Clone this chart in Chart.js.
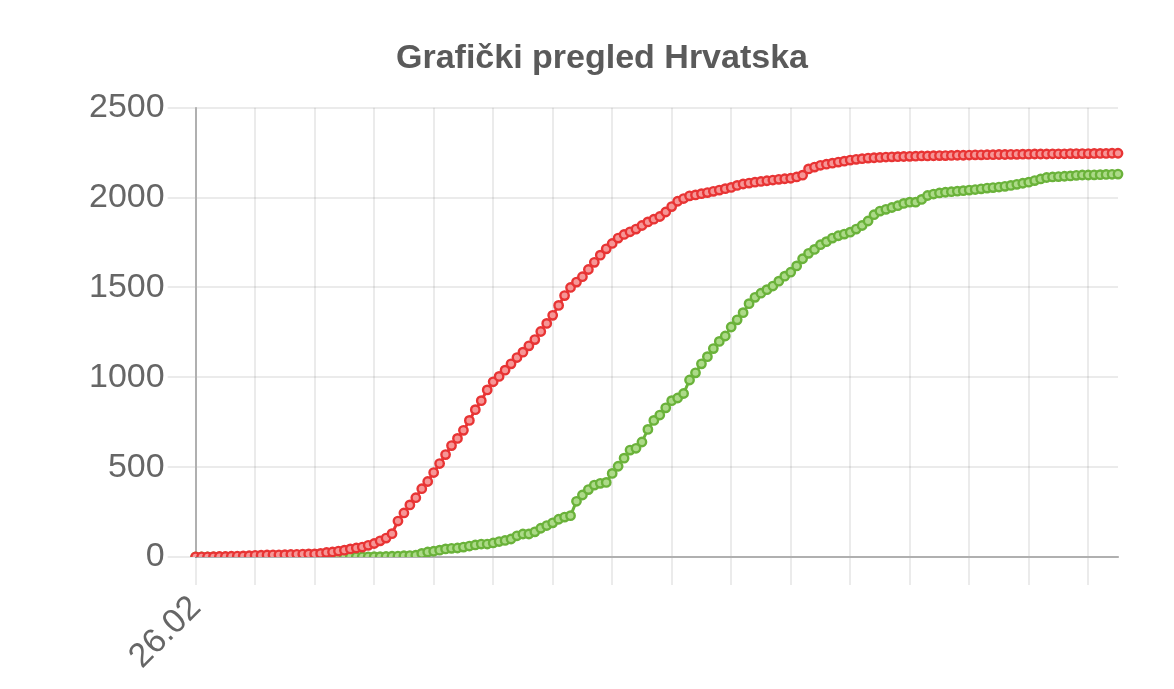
<!DOCTYPE html>
<html>
<head>
<meta charset="utf-8">
<script src="https://cdn.jsdelivr.net/npm/chart.js@4/dist/chart.umd.min.js"></script>
<style>
  html, body { margin: 0; padding: 0; background: #ffffff; }
  #wrap { width: 1174px; height: 689px; }
</style>
</head>
<body>
<div id="wrap"><canvas id="c" width="1174" height="689"></canvas></div>
<script>
const chartTitle = 'Grafički pregled Hrvatska';
const startDay = 26, startMonth = 2, startYear = 2020;
const yTicks = [0, 500, 1000, 1500, 2000, 2500];

const confirmed = [
  1,1,1,2,3,3,4,5,6,7,
  9,10,11,12,12,13,14,15,16,17,
  17,20,25,28,33,38,45,50,55,65,
  75,90,105,130,200,245,290,330,380,420,
  470,520,570,620,660,705,760,820,870,930,
  975,1005,1040,1075,1110,1140,1175,1210,1255,1300,
  1345,1400,1455,1500,1530,1560,1600,1640,1680,1715,
  1745,1775,1795,1810,1825,1845,1865,1880,1895,1920,
  1950,1980,1995,2010,2015,2022,2028,2035,2042,2050,
  2057,2068,2076,2081,2086,2090,2094,2098,2102,2105,
  2108,2115,2125,2160,2170,2180,2186,2192,2198,2203,
  2209,2213,2217,2220,2222,2224,2226,2227,2228,2229,
  2230,2231,2232,2232,2233,2234,2234,2235,2236,2236,
  2237,2238,2238,2239,2239,2240,2240,2241,2241,2242,
  2242,2243,2243,2243,2244,2244,2244,2245,2245,2245,
  2245,2246,2246,2246,2247,2247
];

const recovered = [
  0,0,0,0,0,0,0,0,0,0,
  0,0,0,0,0,0,0,0,0,0,
  0,0,0,0,0,0,1,1,1,1,
  2,2,3,4,5,7,8,10,20,28,
  32,38,45,48,50,55,61,67,72,72,
  78,86,92,100,118,128,128,140,160,175,
  190,210,222,230,310,345,375,400,410,415,
  465,505,550,595,605,640,710,760,790,830,
  870,885,910,985,1025,1075,1115,1160,1200,1230,
  1280,1320,1360,1410,1445,1468,1488,1508,1535,1563,
  1585,1620,1660,1690,1712,1738,1755,1775,1788,1797,
  1808,1825,1845,1870,1905,1925,1935,1945,1955,1968,
  1975,1975,1990,2012,2020,2026,2030,2033,2036,2039,
  2042,2045,2049,2053,2056,2059,2063,2068,2074,2080,
  2086,2095,2104,2112,2115,2117,2119,2121,2124,2126,
  2126,2127,2128,2129,2130,2131
];

// date category labels, one per point, starting 26.02
const labels = [];
for (let k = 0; k < confirmed.length; k++) {
  const d = new Date(startYear, startMonth - 1, startDay + k);
  labels.push(String(d.getDate()).padStart(2, '0') + '.' + String(d.getMonth() + 1).padStart(2, '0'));
}

const FONT = "'Liberation Sans', Arial, Helvetica, sans-serif";
const gridColor = 'rgba(0,0,0,0.08)';

new Chart(document.getElementById('c'), {
  type: 'line',
  data: {
    labels: labels,
    datasets: [
      {
        label: 'Zaraženi',
        data: confirmed,
        borderColor: 'rgb(232,52,52)',
        backgroundColor: 'rgba(240,120,120,0.9)',
        pointBackgroundColor: 'rgb(246,150,150)',
        pointBorderColor: 'rgb(232,52,52)',
        borderWidth: 3,
        pointRadius: 4.2,
        pointBorderWidth: 2.4,
        tension: 0,
        fill: false
      },
      {
        label: 'Izliječeni',
        data: recovered,
        borderColor: 'rgb(106,178,58)',
        backgroundColor: 'rgba(160,210,120,0.9)',
        pointBackgroundColor: 'rgb(172,218,136)',
        pointBorderColor: 'rgb(106,178,58)',
        borderWidth: 3,
        pointRadius: 4.2,
        pointBorderWidth: 2.4,
        tension: 0,
        fill: false
      }
    ]
  },
  options: {
    responsive: false,
    animation: false,
    layout: { padding: { left: 86, right: 56, top: 28, bottom: 9 } },
    plugins: {
      legend: { display: false },
      tooltip: { enabled: false },
      title: {
        display: true,
        text: chartTitle,
        color: '#5a5a5a',
        font: { family: FONT, size: 34, weight: 'bold' },
        padding: { top: 10, bottom: 29 }
      }
    },
    scales: {
      x: {
        offset: false,
        grid: {
          color: (ctx) => (ctx.index % 10 === 0 ? gridColor : 'rgba(0,0,0,0)'),
          lineWidth: 2,
          tickLength: 28
        },
        border: { color: 'rgba(0,0,0,0.25)', width: 2 },
        ticks: {
          autoSkip: false,
          maxRotation: 45,
          minRotation: 45,
          color: '#666',
          font: { family: FONT, size: 34 },
          callback: function (value, index) { return index === 0 ? labels[0] : ''; }
        }
      },
      y: {
        min: yTicks[0],
        max: yTicks[yTicks.length - 1],
        grid: { color: gridColor, lineWidth: 2, tickLength: 28 },
        border: { color: 'rgba(0,0,0,0.25)', width: 2 },
        ticks: {
          stepSize: 500,
          color: '#666',
          font: { family: FONT, size: 34 },
          padding: 3,
          callback: function (value) { return String(value); }
        }
      }
    }
  }
});
</script>
</body>
</html>
